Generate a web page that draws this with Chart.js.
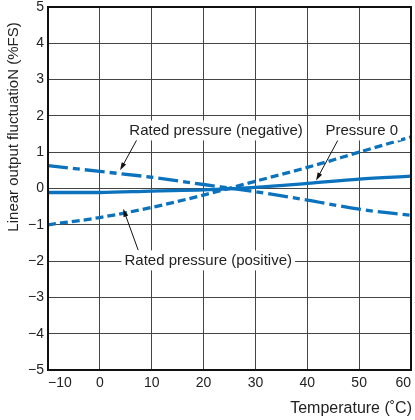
<!DOCTYPE html>
<html>
<head>
<meta charset="utf-8">
<script src="https://cdn.jsdelivr.net/npm/chart.js@4.4.0/dist/chart.umd.min.js"></script>
<style>
    html, body { margin: 0; padding: 0; background: #fff; }
    canvas { display: block; }
</style>
</head>
<body>
<canvas id="fluctuationChart" width="415" height="420"></canvas>
<script>
// 温度 (°C)
const temperatures = [-10, 0, 10, 20, 30, 40, 50, 60];
// 各压力条件下的输出波动 (%FS)
const pressureZero = [-0.11, -0.11, -0.07, -0.04, 0.03, 0.14, 0.26, 0.34];
const ratedPositive = [-1.0, -0.8, -0.52, -0.18, 0.2, 0.58, 1.0, 1.42];
const ratedNegative = [0.63, 0.47, 0.31, 0.11, -0.09, -0.32, -0.57, -0.74];
// 刻度
const xTickValues = [-10, 0, 10, 20, 30, 40, 50, 60];
const yTickValues = [-5, -4, -3, -2, -1, 0, 1, 2, 3, 4, 5];

const LINE_BLUE = '#0b72bd';
const FONT = '"Liberation Sans", Arial, sans-serif';

// 标注 (数据坐标)
const annotations = [
    { text: 'Rated pressure (negative)', at: [22.4, 1.6], from: [7.2, 1.36], to: [3.9, 0.5] },
    { text: 'Pressure 0', at: [50.5, 1.6], from: [45.9, 1.33], to: [41.7, 0.22] },
    { text: 'Rated pressure (positive)', at: [20.9, -1.98], from: [7.4, -1.7], to: [4.5, -0.56] }
];

const toPoints = values => temperatures.map((t, i) => ({ x: t, y: values[i] }));
const minusSign = v => String(v).replace('-', '\u2212');

const annotationPlugin = {
    id: 'annotationPlugin',
    afterDatasetsDraw(chart) {
        const { ctx, scales: { x, y } } = chart;
        ctx.save();
        ctx.font = '15px ' + FONT;
        annotations.forEach(a => {
            // 箭头
            const x1 = x.getPixelForValue(a.from[0]);
            const y1 = y.getPixelForValue(a.from[1]);
            const x2 = x.getPixelForValue(a.to[0]);
            const y2 = y.getPixelForValue(a.to[1]);
            const angle = Math.atan2(y2 - y1, x2 - x1);
            ctx.strokeStyle = '#111';
            ctx.fillStyle = '#111';
            ctx.lineWidth = 1;
            ctx.beginPath();
            ctx.moveTo(x1, y1);
            ctx.lineTo(x2 - 6 * Math.cos(angle), y2 - 6 * Math.sin(angle));
            ctx.stroke();
            ctx.beginPath();
            ctx.moveTo(x2, y2);
            ctx.lineTo(x2 - 8 * Math.cos(angle) + 2.5 * Math.sin(angle), y2 - 8 * Math.sin(angle) - 2.5 * Math.cos(angle));
            ctx.lineTo(x2 - 8 * Math.cos(angle) - 2.5 * Math.sin(angle), y2 - 8 * Math.sin(angle) + 2.5 * Math.cos(angle));
            ctx.closePath();
            ctx.fill();

            // 文字 (白色背景)
            const cx = x.getPixelForValue(a.at[0]);
            const cy = y.getPixelForValue(a.at[1]);
            const w = ctx.measureText(a.text).width;
            ctx.fillStyle = '#fff';
            ctx.fillRect(cx - w / 2 - 3, cy - 10, w + 6, 20);
            ctx.fillStyle = '#222';
            ctx.textAlign = 'center';
            ctx.textBaseline = 'middle';
            ctx.fillText(a.text, cx, cy);
        });
        ctx.restore();
    },
    afterDraw(chart) {
        const { ctx, chartArea: area } = chart;
        ctx.save();
        // 边框
        ctx.strokeStyle = '#111';
        ctx.lineWidth = 2;
        ctx.strokeRect(area.left, area.top, area.right - area.left, area.bottom - area.top);

        // 轴标题
        ctx.fillStyle = '#222';
        ctx.font = '15px ' + FONT;
        ctx.textAlign = 'center';
        ctx.textBaseline = 'middle';
        ctx.translate(14, 127);
        ctx.rotate(-Math.PI / 2);
        ctx.fillText('Linear output fluctuatioN (%FS)', 0, 0);
        ctx.restore();

        ctx.save();
        ctx.fillStyle = '#222';
        ctx.font = '16px ' + FONT;
        ctx.textAlign = 'right';
        ctx.textBaseline = 'middle';
        ctx.fillText('Temperature (\u02DAC)', area.right + 1, 409);
        ctx.restore();
    }
};

new Chart(document.getElementById('fluctuationChart').getContext('2d'), {
    type: 'line',
    data: {
        datasets: [
            {
                label: 'Pressure 0',
                data: toPoints(pressureZero),
                borderColor: LINE_BLUE,
                borderWidth: 3.3,
                pointRadius: 0,
                cubicInterpolationMode: 'monotone'
            },
            {
                label: 'Rated pressure (positive)',
                data: toPoints(ratedPositive),
                borderColor: LINE_BLUE,
                borderWidth: 3.3,
                borderDash: [8, 4],
                pointRadius: 0,
                cubicInterpolationMode: 'monotone'
            },
            {
                label: 'Rated pressure (negative)',
                data: toPoints(ratedNegative),
                borderColor: LINE_BLUE,
                borderWidth: 3.3,
                borderDash: [20, 5, 7, 5],
                pointRadius: 0,
                cubicInterpolationMode: 'monotone'
            }
        ]
    },
    options: {
        responsive: false,
        animation: false,
        layout: { padding: { top: 7, right: 4, left: 0, bottom: 0 } },
        plugins: {
            legend: { display: false },
            tooltip: { enabled: false }
        },
        scales: {
            x: {
                type: 'linear',
                min: xTickValues[0],
                max: xTickValues[xTickValues.length - 1],
                afterBuildTicks: s => { s.ticks = xTickValues.map(v => ({ value: v })); },
                afterFit: s => { s.height = 50; s.paddingLeft = 0; s.paddingRight = 0; },
                border: { display: false },
                grid: { color: '#444', lineWidth: 1, drawTicks: false },
                ticks: {
                    align: 'inner',
                    padding: 5,
                    color: '#222',
                    font: { family: FONT, size: 14 },
                    callback: v => minusSign(v)
                }
            },
            y: {
                min: yTickValues[0],
                max: yTickValues[yTickValues.length - 1],
                afterBuildTicks: s => { s.ticks = yTickValues.map(v => ({ value: v })); },
                afterFit: s => { s.width = 48; s.paddingTop = 0; s.paddingBottom = 0; },
                border: { display: false },
                grid: { color: '#444', lineWidth: 1, drawTicks: false },
                ticks: {
                    padding: 4,
                    color: '#222',
                    font: { family: FONT, size: 14 },
                    callback: v => minusSign(v)
                }
            }
        }
    },
    plugins: [annotationPlugin]
});
</script>
</body>
</html>
